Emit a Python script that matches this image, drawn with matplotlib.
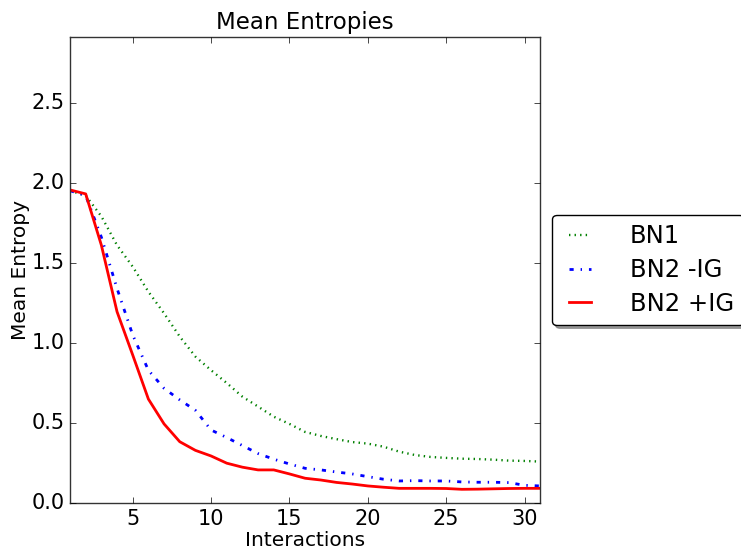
import matplotlib
matplotlib.use("Agg")
import matplotlib.pyplot as plt

plt.style.use("classic")

interactions = list(range(1, 32))
bn1 = [1.95, 1.92, 1.79, 1.61, 1.476, 1.32, 1.185, 1.04, 0.915, 0.83, 0.75, 0.665,
       0.603, 0.54, 0.495, 0.445, 0.42, 0.40, 0.382, 0.372, 0.353, 0.322, 0.301,
       0.289, 0.283, 0.278, 0.276, 0.272, 0.266, 0.264, 0.26]
bn2_minus = [1.95, 1.92, 1.66, 1.34, 1.05, 0.83, 0.717, 0.645, 0.58, 0.457, 0.41,
             0.36, 0.31, 0.275, 0.245, 0.218, 0.208, 0.195, 0.183, 0.166, 0.150,
             0.139, 0.141, 0.139, 0.139, 0.133, 0.131, 0.131, 0.129, 0.112, 0.108]
bn2_plus = [1.955, 1.93, 1.61, 1.195, 0.925, 0.65, 0.495, 0.384, 0.33, 0.295, 0.25,
            0.225, 0.208, 0.208, 0.183, 0.156, 0.145, 0.13, 0.12, 0.108, 0.10,
            0.093, 0.093, 0.093, 0.092, 0.087, 0.088, 0.09, 0.092, 0.093, 0.093]

fig = plt.figure(figsize=(7.41, 5.5), dpi=100, facecolor="white")
ax = fig.add_axes([0.0945, 0.085, 0.6345, 0.848])
ax.plot(interactions, bn1, color="g", linestyle=":", linewidth=1.7, label="BN1")
ax.plot(interactions, bn2_minus, color="b", linestyle="-.", linewidth=2, label="BN2 -IG")
ax.plot(interactions, bn2_plus, color="r", linestyle="-", linewidth=2, label="BN2 +IG")

ax.set_xlim(1, 31)
ax.set_ylim(0, 2.91)
ax.set_xticks([5, 10, 15, 20, 25, 30])
ax.set_yticks([0.0, 0.5, 1.0, 1.5, 2.0, 2.5])
ax.tick_params(labelsize=15)
for s in ax.spines.values():
    s.set_color("#333333")
ax.set_title("Mean Entropies", fontsize=16.5, pad=6)
ax.set_xlabel("Interactions", fontsize=14.5, labelpad=1.5)
ax.set_ylabel("Mean Entropy", fontsize=14.5, labelpad=1)
ax.legend(loc="center left", bbox_to_anchor=(1.0, 0.5), fancybox=True, shadow=True,
          fontsize=17.5, handlelength=1.5, handletextpad=1.3, labelspacing=0.4,
          borderpad=0.4, borderaxespad=0.5)

fig.savefig("out.png", dpi=100, facecolor="white")
